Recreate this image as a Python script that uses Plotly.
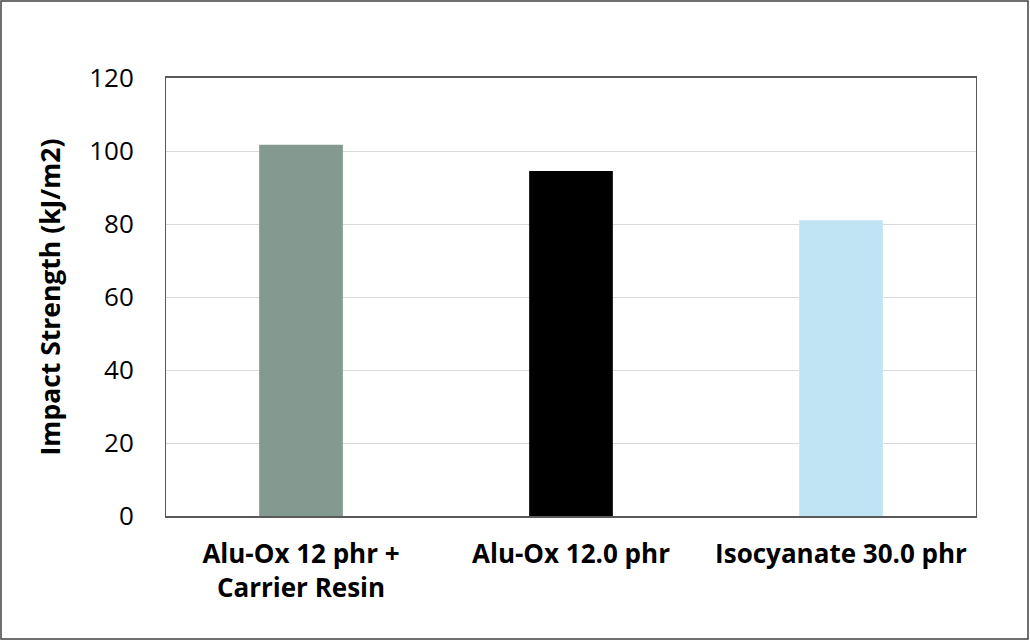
import plotly.graph_objects as go

categories = ["Alu-Ox 12 phr +<br>Carrier Resin", "Alu-Ox 12.0 phr", "Isocyanate 30.0 phr"]
impact_strength = [101.7, 94.5, 81.0]
bar_colors = ["#849A91", "#000000", "#C1E4F5"]
y_ticks = [0, 20, 40, 60, 80, 100, 120]

W, H = 1030, 642
L, R, T, B = 166, 54, 78, 126
pw, ph = W - L - R, H - T - B

fig = go.Figure(go.Bar(
    x=categories,
    y=impact_strength,
    marker=dict(color=bar_colors, line=dict(width=0)),
))

fig.update_layout(
    width=W, height=H,
    margin=dict(l=L, r=R, t=T, b=B),
    paper_bgcolor="white",
    plot_bgcolor="white",
    bargap=0.69,
    showlegend=False,
    font=dict(family="Open Sans, Liberation Sans, sans-serif", color="black"),
    xaxis=dict(
        showline=True, linecolor="#595959", linewidth=1.5, mirror=True,
        ticks="", tickfont=dict(size=26, family="Open Sans", color="black"),
        tickprefix="<b>", ticksuffix="</b>",
        ticklabelstandoff=14,
    ),
    yaxis=dict(
        range=[0, 120], tickvals=y_ticks,
        showgrid=True, gridcolor="#D9D9D9", gridwidth=1,
        showline=True, linecolor="#595959", linewidth=1, mirror=True,
        zeroline=False, ticks="",
        tickfont=dict(size=26, family="Open Sans", color="black"),
        ticklabelstandoff=26,
        title=dict(text="<b>Impact Strength (kJ/m2)</b>",
                   font=dict(size=26.5, family="Open Sans", color="black"),
                   standoff=20),
    ),
)

# outer frame around the whole picture
fig.add_shape(
    type="rect", xref="paper", yref="paper",
    x0=(1 - L) / pw, x1=(W - 2 - L) / pw,
    y0=(T + ph - (H - 3)) / ph, y1=(T + ph - 1) / ph,
    line=dict(color="#404040", width=1.5),
)

fig.write_html("out.html", config={"displayModeBar": False},
               post_script="document.body.style.margin='0';")
